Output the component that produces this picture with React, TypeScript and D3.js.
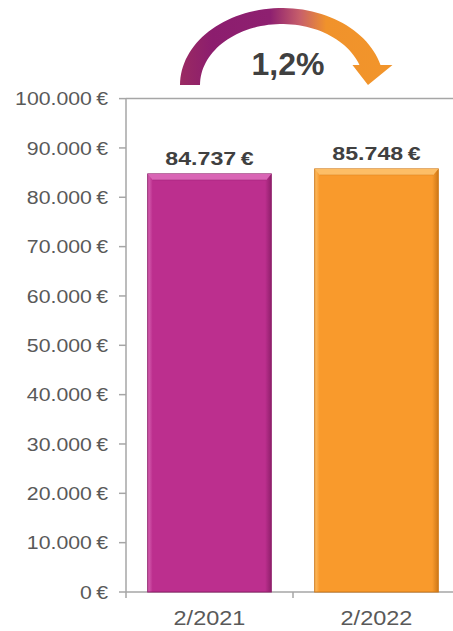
import React from 'react'
import * as d3 from 'd3'

// chart values
const periods = ['2/2021', '2/2022']
const amounts = [84737, 85748]
const yTicks = [0, 10000, 20000, 30000, 40000, 50000, 60000, 70000, 80000, 90000, 100000]

const palette = [
    { base: '#BC2F8E', light: '#D965B5', dark: '#8F1F6B' },
    { base: '#F99A2C', light: '#FDBE66', dark: '#CF7817' },
]

const W = 453
const H = 631

const euro = d3.formatLocale({ decimal: ',', thousands: '.', grouping: [3], currency: ['', ' €'] })
const fmtMoney = (v: number) => euro.format(',.0f')(v) + '\u2009€'
const fmtPct = (v: number) => euro.format('.1f')(v) + '%'

const App = () => {
    const x = d3.scaleBand<string>()
        .domain(periods)
        .range([126, 460])
        .paddingInner(0.26)
        .paddingOuter(0.13)

    const y = d3.scaleLinear()
        .domain([0, 100000])
        .range([592, 98.6])

    const change = (amounts[1] / amounts[0] - 1) * 100

    // arrow band over the bars, from the first bar to the second
    const mid0 = x(periods[0])! + x.bandwidth() / 2
    const mid1 = x(periods[1])! + x.bandwidth() / 2
    const cx = (mid0 + mid1) / 2 - 11
    const baseY = 85
    const outer = { rx: 102, ry: 77 }
    const inner = { rx: 82, ry: 61 }
    const endY = 65
    const arcPts = (r: { rx: number, ry: number }) => d3.range(0, 61).map(i => {
        const a0 = Math.PI
        const a1 = Math.asin((baseY - endY) / r.ry)
        const a = a0 - (a0 - a1) * (i / 60)
        return [cx + r.rx * Math.cos(a), baseY - r.ry * Math.sin(a)] as [number, number]
    })
    const outerPts = arcPts(outer)
    const innerPts = arcPts(inner).reverse()
    const oEnd = outerPts[outerPts.length - 1]
    const iEnd = innerPts[0]
    const headMid = (oEnd[0] + iEnd[0]) / 2
    const arrowPath = d3.line()([
        ...outerPts,
        [oEnd[0] + 12, endY],
        [headMid - 2, baseY],
        [iEnd[0] - 7, endY],
        ...innerPts,
    ]) + 'Z'

    const font = '"Liberation Sans", Arial, sans-serif'

    return (
        <svg width={W} height={H} style={{ position: 'absolute', left: 0, top: 0, background: 'white' }}>
            <defs>
                <linearGradient id="arrowGrad" gradientUnits="userSpaceOnUse" x1={180} y1={0} x2={395} y2={0}>
                    <stop offset="0" stopColor="#9A2A62" />
                    <stop offset="0.15" stopColor="#8C1D6E" />
                    <stop offset="0.42" stopColor="#8E2070" />
                    <stop offset="0.56" stopColor="#C8606A" />
                    <stop offset="0.68" stopColor="#F0922B" />
                    <stop offset="1" stopColor="#F2952B" />
                </linearGradient>
                {palette.map((c, i) => (
                    <linearGradient key={i} id={`barGrad${i}`} x1="0" y1="0" x2="1" y2="0">
                        <stop offset="0" stopColor={c.light} />
                        <stop offset="0.04" stopColor={c.base} />
                        <stop offset="0.95" stopColor={c.base} />
                        <stop offset="1" stopColor={c.dark} />
                    </linearGradient>
                ))}
            </defs>

            {/* plot frame */}
            <line x1={126} x2={W} y1={y(100000)} y2={y(100000)} stroke="#A6A6A6" strokeWidth={1.5} />
            <line x1={126} x2={126} y1={y(100000)} y2={y(0) + 6} stroke="#A6A6A6" strokeWidth={1.5} />
            <line x1={126} x2={W} y1={y(0)} y2={y(0)} stroke="#A6A6A6" strokeWidth={1.5} />

            {/* y axis */}
            {yTicks.map(t => (
                <g key={t} transform={`translate(0,${y(t)})`}>
                    <line x1={119} x2={126} stroke="#A6A6A6" strokeWidth={1.5} />
                    <text transform="translate(108,0) scale(1.12,1)" textAnchor="end" dy="0.35em"
                        fontFamily={font} fontSize={19} fill="#595959">
                        {fmtMoney(t)}
                    </text>
                </g>
            ))}

            {/* category ticks */}
            {periods.map((p, i) => (
                <line key={p} x1={x(p)! - x.step() * x.paddingOuter()} x2={x(p)! - x.step() * x.paddingOuter()}
                    y1={y(0)} y2={y(0) + 6} stroke="#A6A6A6" strokeWidth={1.5} opacity={i === 0 ? 0 : 1} />
            ))}

            {/* bars */}
            {periods.map((p, i) => {
                const bx = x(p)!
                const bw = x.bandwidth()
                const top = y(amounts[i])
                const c = palette[i]
                return (
                    <g key={p}>
                        <rect x={bx} y={top} width={bw} height={y(0) - top} fill={`url(#barGrad${i})`}
                            stroke={c.dark} strokeWidth={1} />
                        <path d={`M${bx},${top}L${bx + bw},${top}L${bx + bw - 5},${top + 6}L${bx + 5},${top + 6}Z`}
                            fill={c.light} />
                        <line x1={bx + 5} x2={bx + bw - 5} y1={top + 6} y2={top + 6} stroke={c.dark} strokeOpacity={0.4} />
                        <text transform={`translate(${bx + bw / 2},${top - 9}) scale(1.22,1)`} textAnchor="middle"
                            fontFamily={font} fontWeight="bold" fontSize={19} fill="#404040">
                            {fmtMoney(amounts[i])}
                        </text>
                        <text transform={`translate(${bx + bw / 2},${625}) scale(1.12,1)`} textAnchor="middle"
                            fontFamily={font} fontSize={21} fill="#595959">
                            {p}
                        </text>
                    </g>
                )
            })}

            {/* growth arrow */}
            <path d={arrowPath} fill="url(#arrowGrad)" />
            <text x={288} y={75} textAnchor="middle" fontFamily={font} fontWeight="bold" fontSize={32} fill="#404040">
                {fmtPct(change)}
            </text>
        </svg>
    )
}

export default App
